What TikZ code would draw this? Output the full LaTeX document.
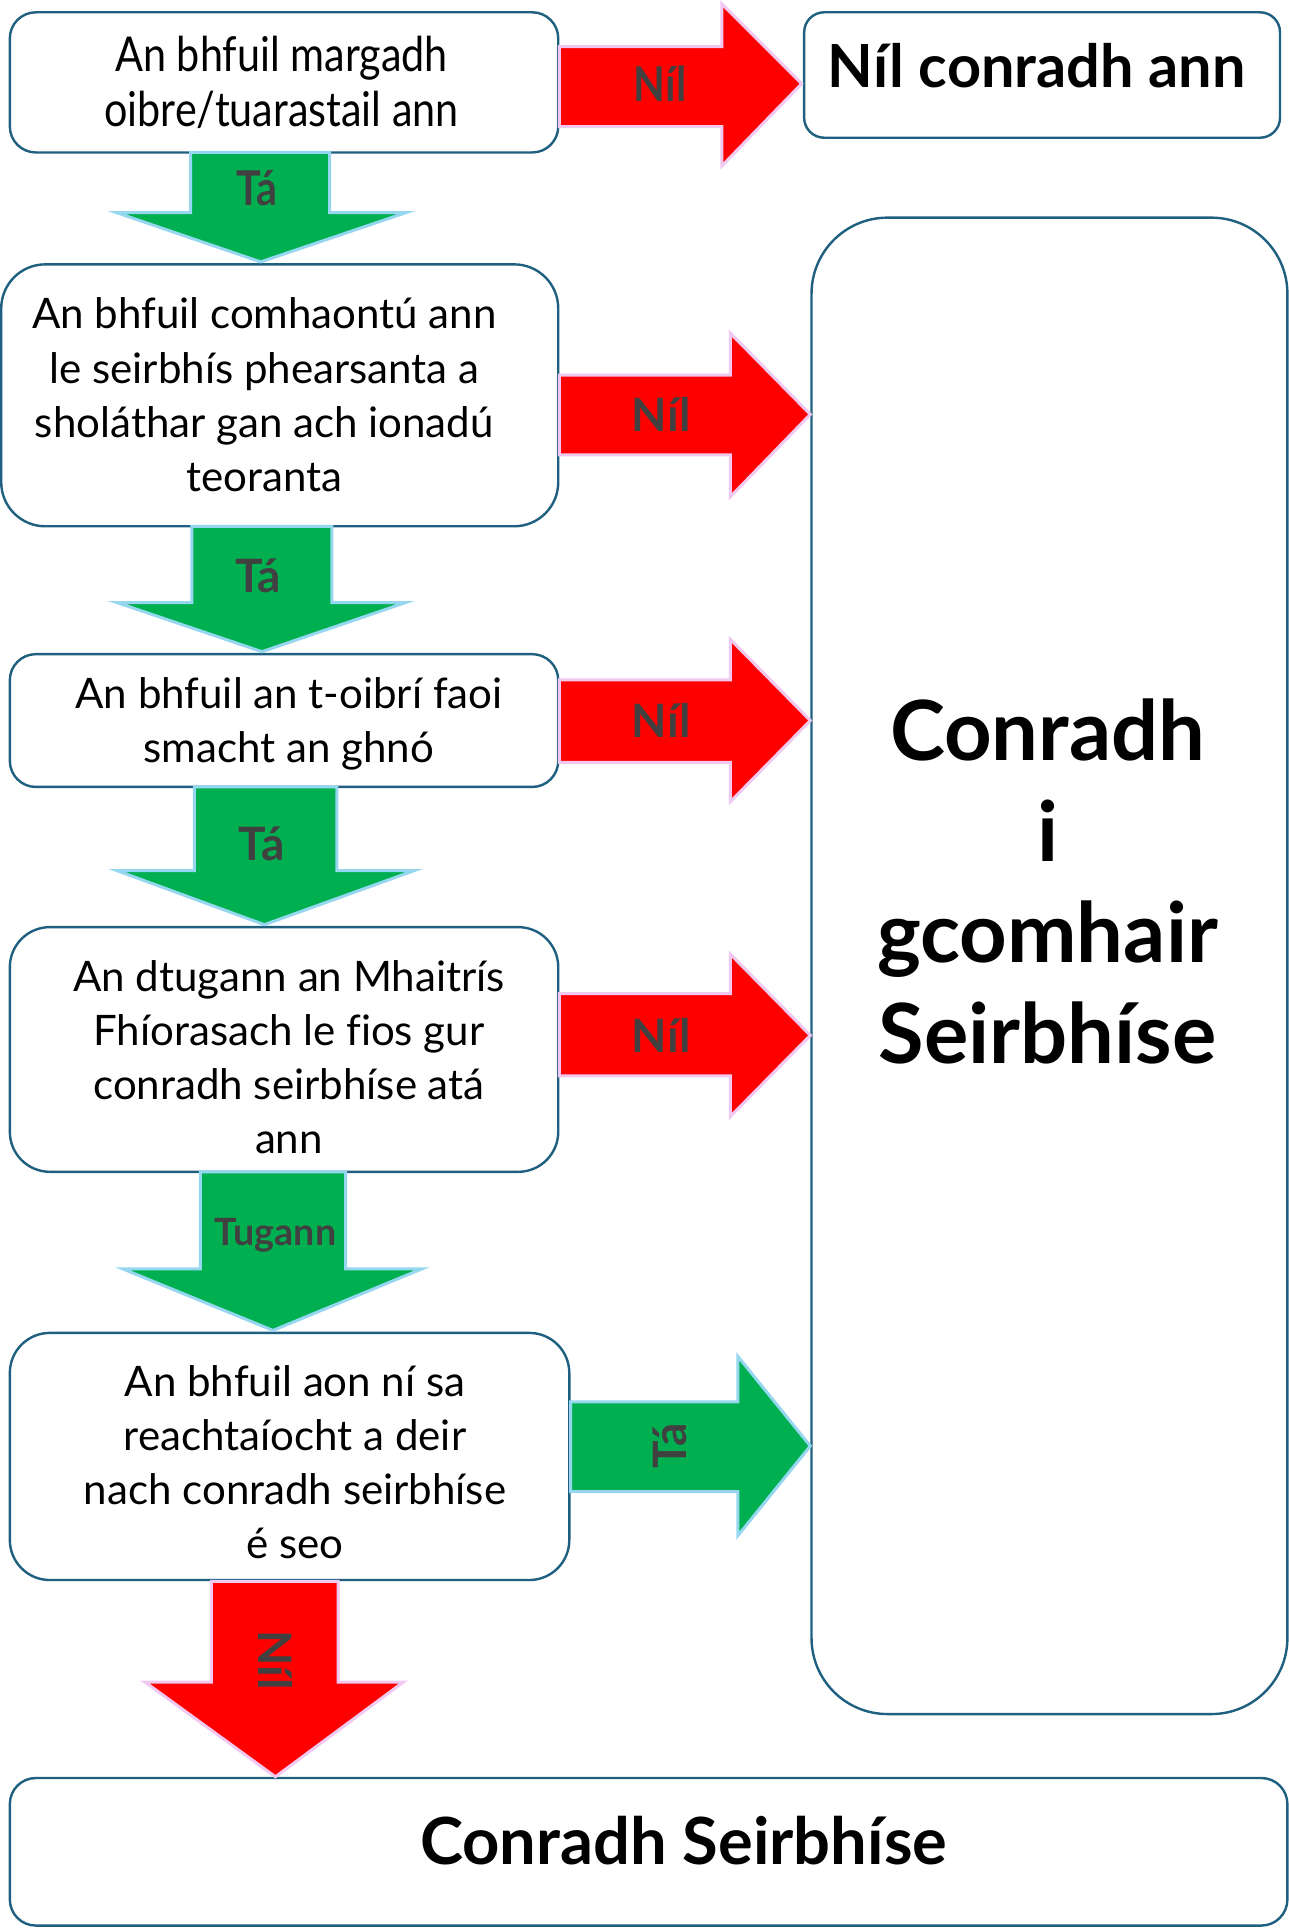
\documentclass[tikz,border=0pt]{standalone}
\usepackage{fontspec}
\setmainfont[Ligatures=NoCommon]{Lato}
\definecolor{bordc}{RGB}{31,95,128}
\definecolor{redf}{RGB}{255,0,0}
\definecolor{redo}{RGB}{240,200,240}
\definecolor{greenf}{RGB}{0,176,80}
\definecolor{greeno}{RGB}{150,215,240}
\definecolor{labc}{RGB}{64,64,64}
\tikzset{
  boxline/.style={draw=bordc, line width=1.2pt, fill=white},
  qtext/.style={align=center, font=\fontsize{21}{27}\selectfont, text=black},
  redarrow/.style={fill=redf, draw=redo, line width=1.5pt},
  greenarrow/.style={fill=greenf, draw=greeno, line width=1.5pt},
  alabel/.style={font=\bfseries\fontsize{23}{26}\selectfont, text=labc},
}
\begin{document}
\begin{tikzpicture}[x=0.6145pt,y=-0.6145pt]
\useasboundingbox (0,0) rectangle (1048,1568);
% boxes
\draw[boxline, rounded corners=13pt] (8,10) rectangle (454,124);
\node[qtext, font=\addfontfeatures{FakeStretch=0.86}\fontsize{24}{27}\selectfont] (q1) at (229,67) {An bhfuil margadh\\oibre/tuarastail ann};
\draw[boxline, rounded corners=10pt] (654,10) rectangle (1041,112);
\node[font=\bfseries\fontsize{29.7}{34}\selectfont] (nil) at (843,53) {Níl conradh ann};
\draw[boxline, rounded corners=22pt] (1,215) rectangle (454,428);
\node[qtext] (q2) at (215,321) {An bhfuil comhaontú ann\\le seirbhís phearsanta a\\sholáthar gan ach ionadú\\teoranta};
\draw[boxline, rounded corners=13pt] (8,532) rectangle (454,640);
\node[qtext] (q3) at (235,589) {An bhfuil an t-oibrí faoi\\smacht an ghnó};
\draw[boxline, rounded corners=20pt] (8,754) rectangle (454,953);
\node[qtext] (q4) at (235,860) {An dtugann an Mhaitrís\\Fhíorasach le fios gur\\conradh seirbhíse atá\\ann};
\draw[boxline, rounded corners=20pt] (8,1084) rectangle (463,1285);
\node[qtext] (q5) at (240,1189) {An bhfuil aon ní sa\\reachtaíocht a deir\\nach conradh seirbhíse\\é seo};
\draw[boxline, rounded corners=38pt] (660,177) rectangle (1047,1394);
\node[align=center, font=\bfseries\fontsize{41.5}{50.5}\selectfont] (cis) at (852,717) {Conradh\\i\\gcomhair\\Seirbhíse};
\draw[boxline, rounded corners=13pt] (8,1446) rectangle (1047,1566);
\node[font=\bfseries\fontsize{32.5}{38}\selectfont] (cs) at (556,1497) {Conradh Seirbhíse};
% red right arrows
\draw[redarrow] (455,38) -- (587,38) -- (587,3) -- (652,68) -- (587,135) -- (587,103) -- (455,103) -- cycle;
\node[alabel, font=\bfseries\addfontfeatures{FakeStretch=0.86}\fontsize{24}{26}\selectfont] (l1) at (537,68) {Níl};
\draw[redarrow] (455,305) -- (594,305) -- (594,271) -- (659,337) -- (594,404) -- (594,370) -- (455,370) -- cycle;
\node[alabel] (l2) at (538,337) {Níl};
\draw[redarrow] (455,553) -- (594,553) -- (594,520) -- (659,586) -- (594,652) -- (594,620) -- (455,620) -- cycle;
\node[alabel] (l3) at (538,586) {Níl};
\draw[redarrow] (455,808) -- (594,808) -- (594,776) -- (659,842) -- (594,908) -- (594,875) -- (455,875) -- cycle;
\node[alabel] (l4) at (538,842) {Níl};
% green right arrow
\draw[greenarrow] (464,1140) -- (600,1140) -- (600,1103) -- (659,1176) -- (600,1249) -- (600,1213) -- (464,1213) -- cycle;
\node[alabel, rotate=90] (l5) at (545,1176) {Tá};
% green down arrows
\draw[greenarrow] (155,124) -- (155,173) -- (95,173) -- (212,213) -- (330,173) -- (268,173) -- (268,124) -- cycle;
\node[alabel, font=\bfseries\addfontfeatures{FakeStretch=0.86}\fontsize{24}{26}\selectfont] (d1) at (209,153) {Tá};
\draw[greenarrow] (156,428) -- (156,490) -- (95,490) -- (213,530) -- (330,490) -- (270,490) -- (270,428) -- cycle;
\node[alabel] (d2) at (210,468) {Tá};
\draw[greenarrow] (158,640) -- (158,708) -- (95,708) -- (215,752) -- (337,708) -- (274,708) -- (274,640) -- cycle;
\node[alabel] (d3) at (213,686) {Tá};
\draw[greenarrow] (163,953) -- (163,1032) -- (100,1032) -- (222,1082) -- (343,1032) -- (281,1032) -- (281,953) -- cycle;
\node[alabel, font=\bfseries\fontsize{18.8}{22}\selectfont] (d4) at (224,1005) {Tugann};
% red down arrow
\draw[redarrow] (172,1286) -- (172,1368) -- (118,1368) -- (224,1445) -- (328,1368) -- (275,1368) -- (275,1286) -- cycle;
\node[alabel, rotate=-90] (d5) at (224,1350) {Níl};
\end{tikzpicture}
\end{document}
